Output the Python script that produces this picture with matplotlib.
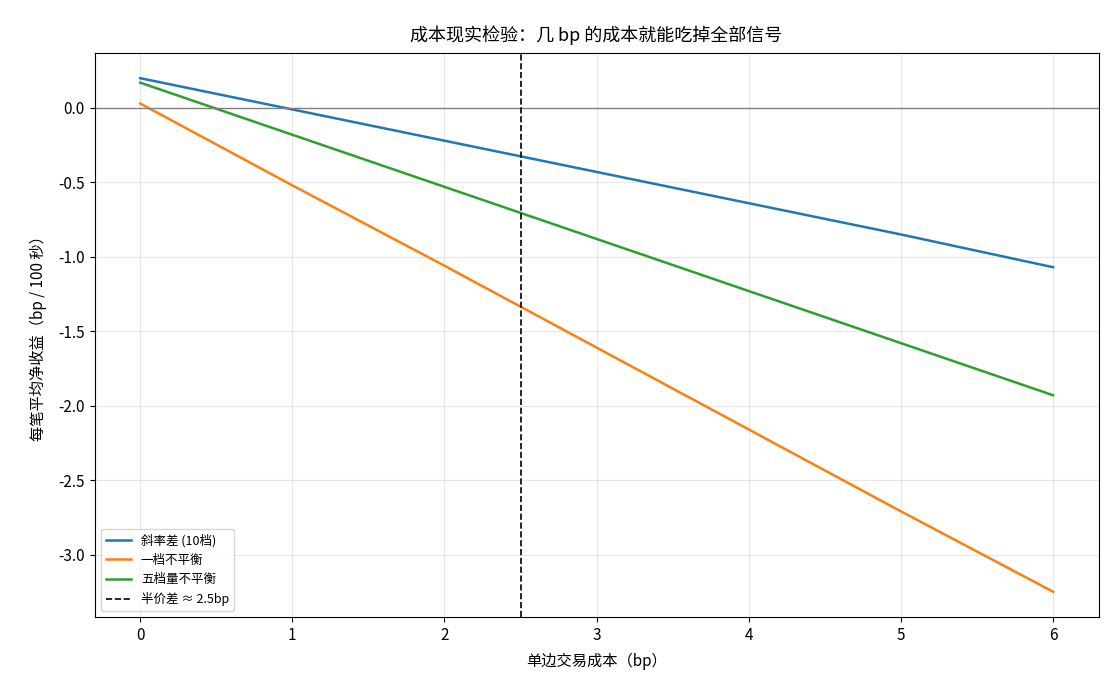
import matplotlib
matplotlib.use('Agg')
import matplotlib.pyplot as plt

plt.rcParams['font.family'] = ['Noto Sans CJK SC', 'DejaVu Sans']
plt.rcParams['axes.unicode_minus'] = False

# cost per side (bp) and mean net return per trade (bp / 100 s)
costs = [0, 1, 2, 3, 4, 5, 6]
slope_diff = [0.20, -0.01, -0.22, -0.43, -0.64, -0.85, -1.07]
imb_l1 = [0.03, -0.52, -1.06, -1.61, -2.16, -2.71, -3.25]
imb_l5 = [0.17, -0.18, -0.53, -0.88, -1.23, -1.58, -1.93]
half_spread = 2.5

fig, ax = plt.subplots(figsize=(11.2, 7), dpi=100)

ax.plot(costs, slope_diff, color='#1f77b4', lw=1.8, label='斜率差 (10档)')
ax.plot(costs, imb_l1, color='#ff7f0e', lw=1.8, label='一档不平衡')
ax.plot(costs, imb_l5, color='#2ca02c', lw=1.8, label='五档量不平衡')
ax.axhline(0, color='gray', lw=1)
ax.axvline(half_spread, color='black', ls='--', lw=1.2, label='半价差 ≈ 2.5bp')

ax.set_title('成本现实检验：几 bp 的成本就能吃掉全部信号', fontsize=13, pad=8)
ax.set_xlabel('单边交易成本（bp）', fontsize=11, labelpad=6)
ax.set_ylabel('每笔平均净收益（bp / 100 秒）', fontsize=11, labelpad=8)
ax.tick_params(labelsize=11)
ax.grid(True, alpha=0.3)
ax.legend(loc='lower left', fontsize=9)

plt.subplots_adjust(left=0.0844, right=0.981, top=0.925, bottom=0.118)
plt.savefig('out.png')
